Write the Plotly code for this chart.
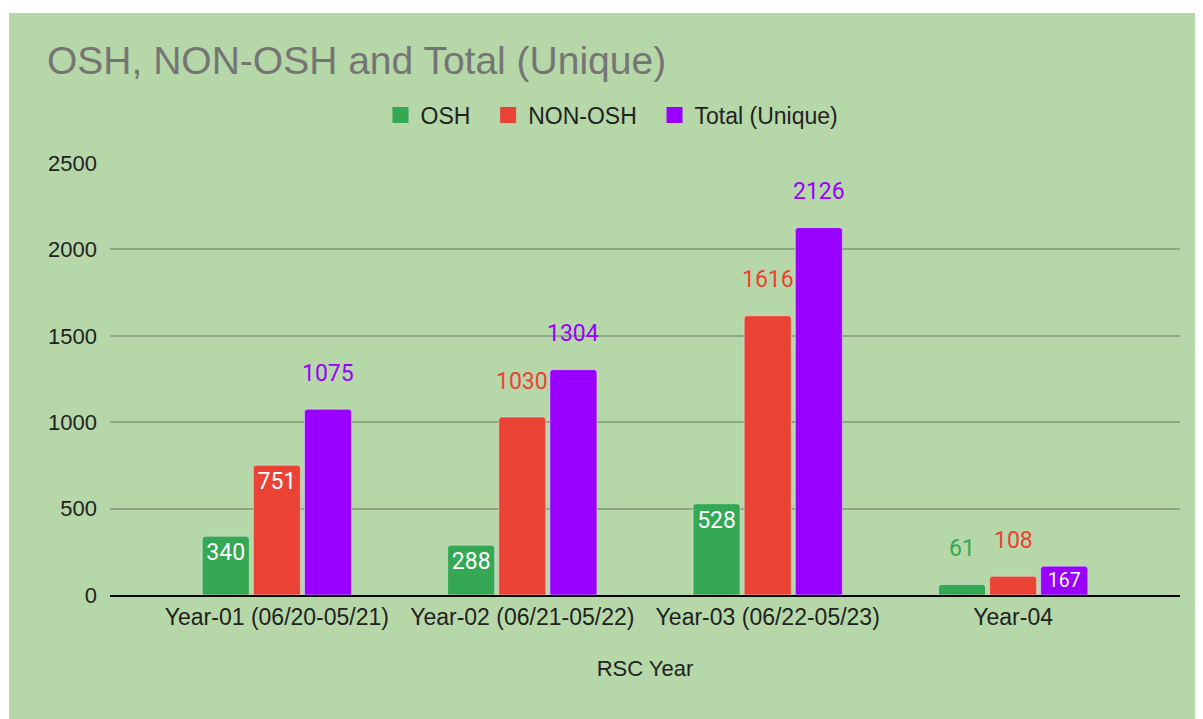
import plotly.graph_objects as go

years = ["Year-01 (06/20-05/21)", "Year-02 (06/21-05/22)", "Year-03 (06/22-05/23)", "Year-04"]
osh = [340, 288, 528, 61]
non_osh = [751, 1030, 1616, 108]
total_unique = [1075, 1304, 2126, 167]

# which value labels Google drew inside the bar (the rest sit above it)
osh_inside = [True, True, True, False]
non_osh_inside = [True, False, False, False]
total_inside = [False, False, False, True]

BG = "#b6d7a8"
series = [
    ("OSH", osh, osh_inside, "#34a853", -1),
    ("NON-OSH", non_osh, non_osh_inside, "#ea4335", 0),
    ("Total (Unique)", total_unique, total_inside, "#9900ff", 1),
]

# the page body has an 8px margin, so figure coords = screen coords - 8
OFF = 8
W, H = 1195, 711
L, R, T, B = 110 - OFF, 23, 163 - OFF, 124
plot_w = W - L - R
plot_h = H - T - B
x_range = [-0.68, 3.68]
bargap = 0.375
slot_px = plot_w / (x_range[1] - x_range[0]) * (1 - bargap) / 3


def px_x(sx):
    return (sx - OFF - L) / plot_w


def px_y(sy):
    return (H - B - (sy - OFF)) / plot_h


fig = go.Figure()
annotations = []
for name, vals, inside, color, k in series:
    fig.add_trace(go.Bar(
        x=years, y=vals, name=name, marker_color=color, showlegend=False,
        text=[str(v) if i else "" for v, i in zip(vals, inside)],
        textposition="inside", insidetextanchor="end",
        textfont=dict(color="white", size=23, family="Roboto"),
        textangle=0, cliponaxis=False,
    ))
    for xv, v, i in zip(years, vals, inside):
        if not i:
            annotations.append(dict(
                x=xv, y=v, xref="x", yref="y", text=str(v), showarrow=False,
                xshift=k * slot_px, yshift=36,
                font=dict(color=color, size=23, family="Roboto"),
            ))

# legend-only entries so the swatches are big squares like Google's;
# trailing no-break spaces widen the gap between entries
pad = "\u00a0\u00a0"
for j, (name, _, _, color, _) in enumerate(series):
    fig.add_trace(go.Scatter(
        x=[None], y=[None], name=name + (pad if j < len(series) - 1 else ""),
        mode="markers", marker=dict(symbol="square", size=18, color=color),
    ))

fig.update_layout(
    width=W, height=H,
    barmode="group", bargap=bargap, bargroupgap=0.08, barcornerradius=3,
    paper_bgcolor="white", plot_bgcolor="rgba(0,0,0,0)",
    margin=dict(l=L, r=R, t=T, b=B, autoexpand=False),
    font=dict(family="Arial", color="#222222", size=22),
    title=dict(text="OSH, NON-OSH and Total (Unique)", x=(47 - OFF) / W, xanchor="left",
               y=1 - (60 - OFF) / H, yanchor="middle",
               font=dict(family="Arial", size=39, color="#757575")),
    legend=dict(orientation="h", x=px_x(612), xanchor="center",
                y=px_y(115), yanchor="middle", bgcolor="rgba(0,0,0,0)",
                font=dict(size=23, color="#222222", family="Arial"),
                traceorder="normal"),
    xaxis=dict(range=x_range, title=dict(text="RSC Year", standoff=32,
                                         font=dict(size=22, family="Arial")),
               tickfont=dict(size=23, family="Arial"), showgrid=False,
               showline=True, linecolor="black", linewidth=2, ticks=""),
    yaxis=dict(range=[0, 2500], tickvals=[0, 500, 1000, 1500, 2000, 2500],
               gridcolor="#8fa587", gridwidth=1.5, zeroline=False,
               tickfont=dict(size=22, family="Arial"), ticklabelstandoff=12),
    annotations=annotations,
    shapes=[dict(type="rect", xref="paper", yref="paper", layer="below",
                 x0=px_x(9), x1=px_x(1215), y0=px_y(730), y1=px_y(13),
                 fillcolor=BG, line_width=0)],
)

fig.write_html("out.html")
